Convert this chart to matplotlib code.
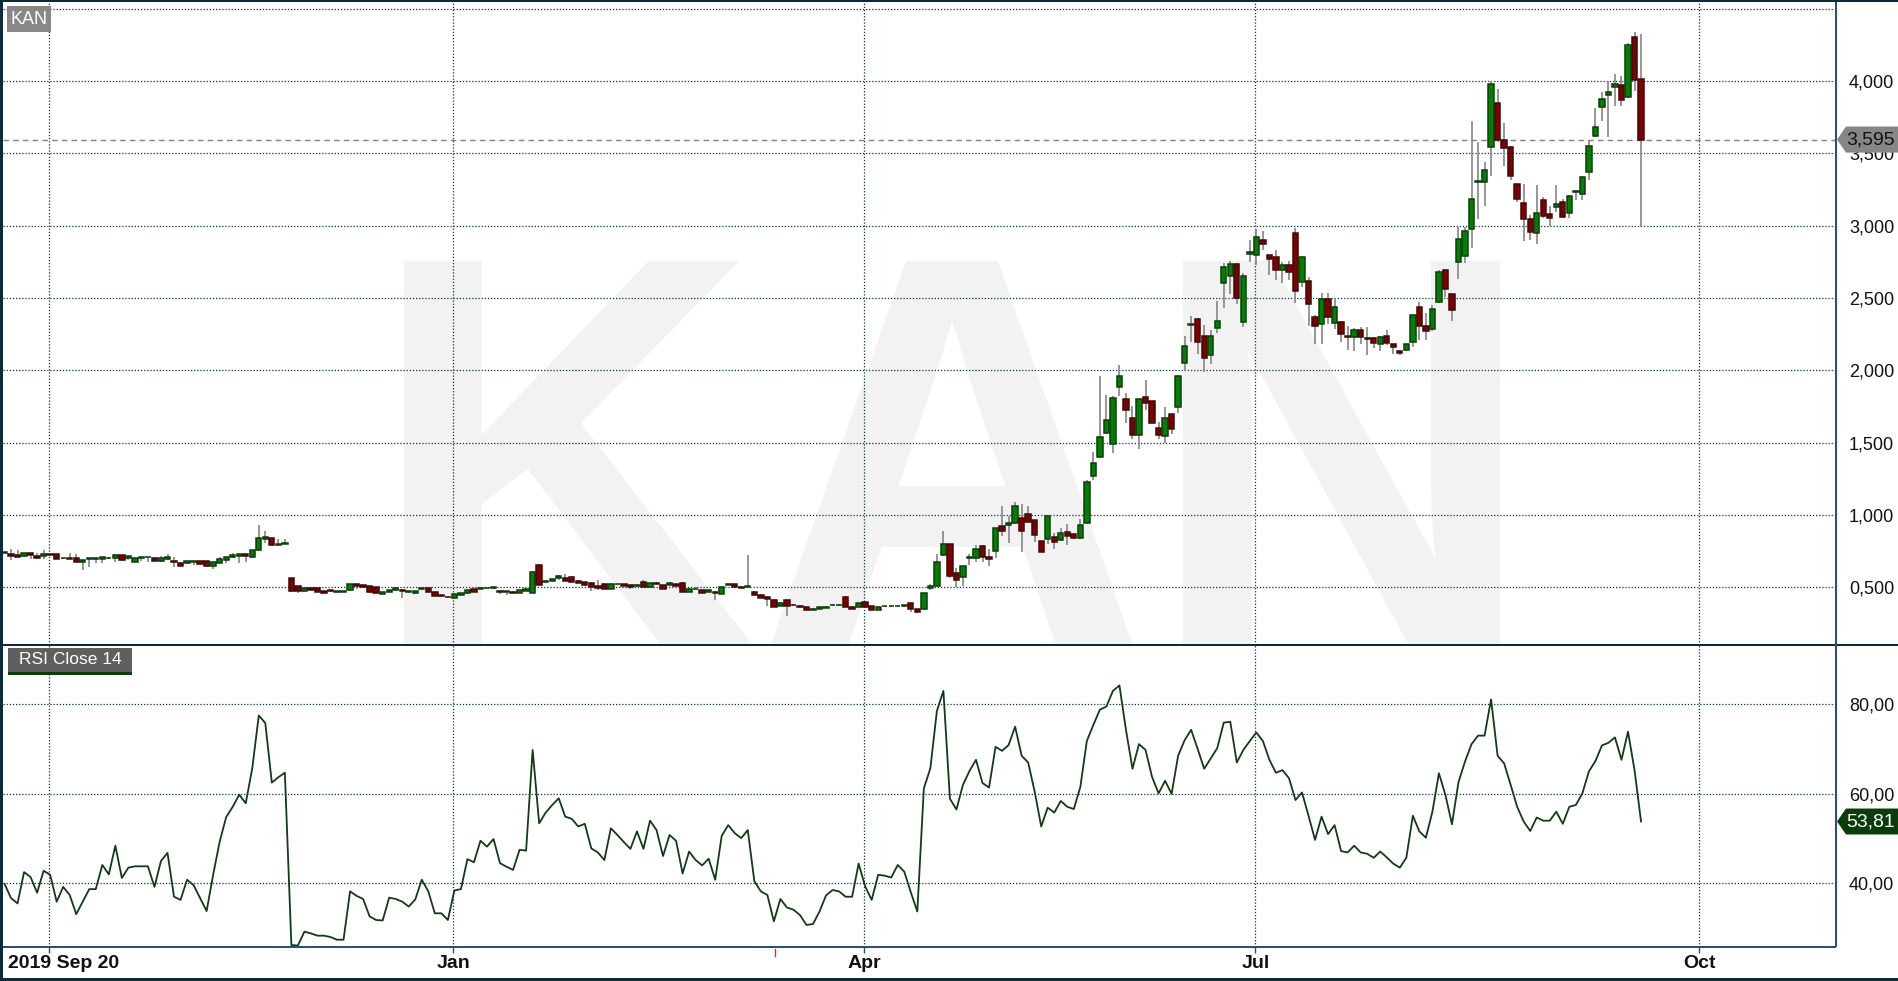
import matplotlib
matplotlib.use('Agg')
import matplotlib.pyplot as plt
import matplotlib.transforms as mtransforms
from matplotlib.patches import Polygon, Rectangle, PathPatch
from matplotlib.textpath import TextPath
from matplotlib.font_manager import FontProperties

plt.rcParams['font.family'] = ['Liberation Sans', 'DejaVu Sans']

# ---- data (price shown with comma decimals) ----
opens = [
    0.737, 0.730, 0.721, 0.714, 0.735, 0.717, 0.719, 0.728, 0.728, 0.700,
    0.705, 0.700, 0.673, 0.696, 0.697, 0.694, 0.701, 0.703, 0.721, 0.700,
    0.677, 0.705, 0.706, 0.700, 0.684, 0.698, 0.682, 0.671, 0.666, 0.677,
    0.680, 0.680, 0.650, 0.671, 0.691, 0.710, 0.717, 0.728, 0.707, 0.756,
    0.836, 0.839, 0.790, 0.797, 0.562, 0.507, 0.472, 0.493, 0.493, 0.475,
    0.482, 0.470, 0.470, 0.479, 0.523, 0.516, 0.509, 0.500, 0.456, 0.470,
    0.479, 0.482, 0.468, 0.459, 0.486, 0.493, 0.468, 0.443, 0.433, 0.429,
    0.449, 0.459, 0.486, 0.488, 0.494, 0.495, 0.472, 0.468, 0.470, 0.463,
    0.477, 0.463, 0.657, 0.537, 0.544, 0.565, 0.567, 0.574, 0.546, 0.535,
    0.532, 0.507, 0.525, 0.491, 0.521, 0.521, 0.514, 0.507, 0.539, 0.502,
    0.532, 0.514, 0.518, 0.521, 0.532, 0.470, 0.486, 0.479, 0.468, 0.470,
    0.456, 0.518, 0.521, 0.505, 0.500, 0.470, 0.449, 0.435, 0.415, 0.373,
    0.415, 0.378, 0.373, 0.366, 0.346, 0.353, 0.357, 0.375, 0.376, 0.435,
    0.366, 0.366, 0.396, 0.369, 0.346, 0.369, 0.370, 0.370, 0.372, 0.389,
    0.348, 0.348, 0.493, 0.512, 0.721, 0.797, 0.597, 0.569, 0.702, 0.700,
    0.788, 0.707, 0.749, 0.922, 0.929, 0.947, 0.977, 1.005, 0.963, 0.818,
    0.832, 0.846, 0.825, 0.880, 0.866, 0.843, 0.947, 1.272, 1.403, 1.569,
    1.493, 1.887, 1.800, 1.668, 1.555, 1.813, 1.786, 1.599, 1.548, 1.696,
    1.749, 2.048, 2.313, 2.356, 2.236, 2.108, 2.291, 2.603, 2.651, 2.734,
    2.333, 2.806, 2.797, 2.901, 2.797, 2.783, 2.693, 2.727, 2.949, 2.610,
    2.617, 2.367, 2.323, 2.494, 2.326, 2.333, 2.236, 2.233, 2.279, 2.223,
    2.224, 2.180, 2.238, 2.182, 2.132, 2.143, 2.196, 2.436, 2.307, 2.286,
    2.473, 2.691, 2.524, 2.746, 2.792, 2.979, 3.300, 3.305, 3.543, 3.848,
    3.591, 3.545, 3.289, 3.157, 3.048, 2.947, 3.176, 3.079, 3.127, 3.164,
    3.085, 3.230, 3.217, 3.369, 3.621, 3.820, 3.905, 3.958, 3.972, 3.887,
    4.305, 4.014]

highs = [
    0.742, 0.765, 0.758, 0.737, 0.736, 0.740, 0.758, 0.732, 0.730, 0.705,
    0.740, 0.730, 0.689, 0.698, 0.699, 0.707, 0.712, 0.730, 0.724, 0.714,
    0.703, 0.710, 0.708, 0.705, 0.717, 0.730, 0.712, 0.673, 0.684, 0.680,
    0.682, 0.682, 0.675, 0.707, 0.710, 0.740, 0.730, 0.730, 0.758, 0.931,
    0.889, 0.843, 0.832, 0.834, 0.565, 0.510, 0.497, 0.497, 0.496, 0.477,
    0.484, 0.477, 0.475, 0.525, 0.526, 0.518, 0.512, 0.502, 0.470, 0.484,
    0.497, 0.486, 0.472, 0.477, 0.497, 0.495, 0.470, 0.447, 0.435, 0.454,
    0.463, 0.482, 0.490, 0.503, 0.498, 0.497, 0.475, 0.470, 0.472, 0.481,
    0.488, 0.612, 0.660, 0.548, 0.557, 0.588, 0.590, 0.578, 0.549, 0.537,
    0.534, 0.548, 0.528, 0.527, 0.525, 0.523, 0.516, 0.521, 0.553, 0.532,
    0.534, 0.516, 0.537, 0.523, 0.535, 0.493, 0.502, 0.481, 0.486, 0.472,
    0.507, 0.527, 0.523, 0.507, 0.721, 0.472, 0.451, 0.437, 0.418, 0.396,
    0.418, 0.382, 0.375, 0.368, 0.355, 0.366, 0.370, 0.382, 0.383, 0.437,
    0.368, 0.389, 0.398, 0.371, 0.369, 0.374, 0.376, 0.378, 0.380, 0.391,
    0.350, 0.462, 0.526, 0.728, 0.887, 0.800, 0.636, 0.650, 0.728, 0.793,
    0.790, 0.763, 0.910, 1.062, 0.993, 1.090, 1.076, 1.062, 0.968, 0.822,
    0.995, 0.873, 0.908, 0.938, 0.870, 0.970, 1.242, 1.435, 1.961, 1.829,
    1.823, 2.037, 1.843, 1.753, 1.805, 1.933, 1.790, 1.641, 1.749, 1.700,
    1.965, 2.240, 2.372, 2.360, 2.314, 2.279, 2.476, 2.745, 2.757, 2.740,
    2.672, 2.903, 2.977, 2.965, 2.800, 2.834, 2.751, 2.757, 2.984, 2.790,
    2.644, 2.383, 2.533, 2.533, 2.499, 2.340, 2.303, 2.290, 2.296, 2.296,
    2.228, 2.240, 2.279, 2.185, 2.136, 2.185, 2.385, 2.473, 2.393, 2.450,
    2.693, 2.700, 2.530, 2.993, 2.993, 3.721, 3.577, 3.439, 3.998, 3.945,
    3.709, 3.550, 3.295, 3.289, 3.074, 3.282, 3.196, 3.136, 3.282, 3.185,
    3.215, 3.245, 3.345, 3.594, 3.813, 3.921, 3.998, 4.051, 4.037, 4.260,
    4.337, 4.328]

lows = [
    0.735, 0.689, 0.707, 0.712, 0.698, 0.696, 0.698, 0.722, 0.694, 0.698,
    0.698, 0.677, 0.620, 0.641, 0.671, 0.671, 0.698, 0.677, 0.684, 0.689,
    0.675, 0.684, 0.677, 0.682, 0.677, 0.689, 0.643, 0.648, 0.664, 0.657,
    0.654, 0.638, 0.627, 0.666, 0.671, 0.700, 0.666, 0.673, 0.703, 0.750,
    0.804, 0.786, 0.786, 0.796, 0.470, 0.459, 0.468, 0.479, 0.468, 0.452,
    0.465, 0.459, 0.465, 0.477, 0.486, 0.502, 0.463, 0.454, 0.452, 0.465,
    0.475, 0.429, 0.463, 0.456, 0.484, 0.465, 0.438, 0.433, 0.425, 0.427,
    0.445, 0.456, 0.466, 0.486, 0.489, 0.490, 0.452, 0.449, 0.460, 0.461,
    0.475, 0.461, 0.516, 0.530, 0.540, 0.553, 0.540, 0.535, 0.528, 0.512,
    0.475, 0.484, 0.488, 0.488, 0.516, 0.510, 0.491, 0.505, 0.503, 0.500,
    0.523, 0.489, 0.516, 0.510, 0.468, 0.466, 0.484, 0.461, 0.466, 0.412,
    0.454, 0.516, 0.500, 0.496, 0.498, 0.443, 0.424, 0.371, 0.362, 0.371,
    0.302, 0.371, 0.360, 0.343, 0.343, 0.350, 0.355, 0.371, 0.372, 0.362,
    0.348, 0.364, 0.364, 0.343, 0.343, 0.366, 0.366, 0.366, 0.366, 0.332,
    0.320, 0.345, 0.480, 0.505, 0.715, 0.562, 0.505, 0.509, 0.654, 0.677,
    0.677, 0.650, 0.705, 0.855, 0.804, 0.940, 0.747, 0.950, 0.816, 0.745,
    0.800, 0.765, 0.820, 0.795, 0.835, 0.834, 0.940, 1.242, 1.395, 1.560,
    1.431, 1.825, 1.634, 1.528, 1.454, 1.726, 1.630, 1.525, 1.495, 1.560,
    1.707, 1.998, 2.199, 2.113, 1.986, 2.044, 2.256, 2.430, 2.529, 2.460,
    2.296, 2.746, 2.725, 2.829, 2.658, 2.626, 2.603, 2.626, 2.464, 2.575,
    2.307, 2.185, 2.185, 2.321, 2.284, 2.199, 2.139, 2.136, 2.180, 2.106,
    2.152, 2.136, 2.176, 2.115, 2.104, 2.132, 2.164, 2.212, 2.208, 2.273,
    2.462, 2.508, 2.342, 2.628, 2.739, 2.843, 3.048, 3.139, 3.346, 3.575,
    3.409, 3.316, 3.166, 2.896, 2.901, 2.871, 3.051, 2.998, 3.095, 3.051,
    3.055, 3.178, 3.178, 3.316, 3.615, 3.721, 3.612, 3.829, 3.829, 3.880,
    3.928, 2.993]

closes = [
    0.740, 0.719, 0.712, 0.735, 0.726, 0.705, 0.730, 0.726, 0.698, 0.703,
    0.698, 0.677, 0.689, 0.698, 0.698, 0.707, 0.703, 0.721, 0.691, 0.714,
    0.700, 0.707, 0.707, 0.684, 0.700, 0.707, 0.673, 0.650, 0.682, 0.678,
    0.664, 0.650, 0.673, 0.694, 0.707, 0.724, 0.728, 0.717, 0.756, 0.839,
    0.845, 0.790, 0.800, 0.806, 0.472, 0.472, 0.495, 0.482, 0.470, 0.459,
    0.472, 0.475, 0.473, 0.521, 0.512, 0.505, 0.465, 0.459, 0.468, 0.482,
    0.493, 0.472, 0.470, 0.475, 0.493, 0.470, 0.438, 0.440, 0.431, 0.452,
    0.461, 0.479, 0.470, 0.495, 0.496, 0.496, 0.466, 0.468, 0.463, 0.479,
    0.486, 0.608, 0.518, 0.546, 0.555, 0.581, 0.544, 0.537, 0.530, 0.516,
    0.502, 0.498, 0.491, 0.525, 0.523, 0.512, 0.502, 0.518, 0.505, 0.530,
    0.525, 0.491, 0.528, 0.512, 0.470, 0.491, 0.490, 0.463, 0.484, 0.459,
    0.505, 0.525, 0.502, 0.498, 0.512, 0.445, 0.426, 0.422, 0.366, 0.394,
    0.373, 0.375, 0.362, 0.346, 0.353, 0.364, 0.366, 0.379, 0.378, 0.364,
    0.350, 0.389, 0.366, 0.346, 0.366, 0.372, 0.372, 0.372, 0.373, 0.348,
    0.327, 0.459, 0.507, 0.673, 0.797, 0.576, 0.548, 0.645, 0.706, 0.767,
    0.707, 0.694, 0.908, 0.892, 0.942, 1.060, 0.892, 0.954, 0.859, 0.747,
    0.991, 0.816, 0.873, 0.853, 0.843, 0.929, 1.226, 1.357, 1.537, 1.654,
    1.806, 1.959, 1.724, 1.555, 1.800, 1.776, 1.638, 1.555, 1.668, 1.597,
    1.961, 2.169, 2.318, 2.199, 2.088, 2.236, 2.342, 2.714, 2.734, 2.499,
    2.649, 2.816, 2.921, 2.873, 2.769, 2.693, 2.727, 2.679, 2.547, 2.783,
    2.457, 2.309, 2.494, 2.365, 2.436, 2.249, 2.231, 2.279, 2.229, 2.216,
    2.192, 2.231, 2.192, 2.159, 2.118, 2.180, 2.381, 2.307, 2.273, 2.427,
    2.677, 2.559, 2.418, 2.905, 2.963, 3.182, 3.307, 3.383, 3.979, 3.594,
    3.536, 3.346, 3.182, 3.048, 2.954, 3.085, 3.065, 3.055, 3.148, 3.058,
    3.208, 3.237, 3.335, 3.552, 3.684, 3.878, 3.924, 3.977, 3.868, 4.252,
    4.005, 3.595]

rsi = [
    39.9, 36.7, 35.5, 42.5, 41.4, 37.9, 42.8, 41.9, 35.9, 39.2,
    37.4, 33.1, 35.9, 38.7, 38.7, 44.1, 42.0, 48.4, 41.2, 43.5,
    43.8, 43.8, 43.8, 39.2, 45.0, 46.8, 37.0, 36.3, 40.8, 39.6,
    36.7, 33.8, 41.9, 49.3, 54.8, 57.1, 59.8, 57.9, 65.7, 77.5,
    75.8, 62.5, 63.7, 64.7, 26.2, 26.1, 29.2, 28.8, 28.3, 28.3,
    28.0, 27.4, 27.4, 38.2, 37.2, 36.5, 32.6, 31.8, 31.7, 36.8,
    36.5, 35.9, 34.8, 36.4, 40.8, 38.2, 33.3, 33.3, 31.8, 38.4,
    38.7, 45.4, 44.7, 49.5, 48.2, 49.9, 44.5, 43.7, 43.0, 47.5,
    47.3, 69.8, 53.4, 55.8, 57.5, 59.0, 54.9, 54.4, 52.7, 53.3,
    47.8, 46.9, 45.2, 52.3, 50.8, 49.2, 47.7, 51.6, 47.7, 54.0,
    51.9, 46.1, 50.8, 49.5, 42.2, 47.1, 45.2, 44.0, 45.5, 40.8,
    50.6, 53.0, 51.2, 50.1, 51.9, 40.5, 38.2, 37.4, 31.5, 36.5,
    34.6, 34.1, 32.9, 30.7, 30.9, 33.7, 37.3, 38.5, 38.2, 37.0,
    37.0, 44.4, 39.3, 36.3, 41.9, 41.7, 41.3, 44.1, 42.6, 38.0,
    33.7, 61.2, 65.7, 78.5, 83.0, 58.9, 56.5, 62.0, 65.1, 67.6,
    62.4, 61.4, 70.5, 69.6, 70.9, 75.0, 68.5, 67.0, 60.5, 52.7,
    56.9, 55.8, 58.4, 57.1, 56.6, 61.5, 71.8, 75.4, 78.8, 79.5,
    83.0, 84.2, 74.3, 65.6, 71.1, 69.8, 63.8, 60.1, 62.9, 60.0,
    68.5, 72.0, 74.3, 70.0, 65.6, 67.9, 70.2, 75.9, 76.1, 67.0,
    69.8, 71.8, 73.7, 71.8, 67.6, 64.7, 65.3, 63.5, 58.6, 60.3,
    55.1, 49.7, 54.9, 51.0, 53.0, 47.2, 46.9, 48.4, 46.9, 46.6,
    45.7, 47.1, 45.8, 44.4, 43.5, 45.7, 55.1, 51.6, 50.2, 56.0,
    64.6, 59.7, 53.2, 62.6, 67.2, 71.1, 73.0, 73.0, 81.1, 68.5,
    66.8, 62.0, 57.1, 53.8, 51.7, 54.7, 54.0, 54.0, 56.0, 53.3,
    57.1, 57.5, 60.1, 65.0, 67.3, 70.8, 71.4, 72.6, 67.6, 73.9,
    65.3, 53.81]

# date gridlines sit at these bar positions
date_pos = [6.87, 68.83, 131.87, 191.84, 259.94]
date_labels = ['2019 Sep 20', 'Jan', 'Apr', 'Jul', 'Oct']
event_pos = [118.2]

price_ticks = [0.5, 1.0, 1.5, 2.0, 2.5, 3.0, 3.5, 4.0, 4.5]
rsi_ticks = [40, 60, 80]
ticker = 'KAN'
indicator = 'RSI Close 14'

# ---- colours ----
NAVY = '#0b2b3c'
AXBLUE = '#2b4f75'
GRID = '#0b3345'
UP, UP_EDGE = '#008000', '#0b3d0b'
DN, DN_EDGE = '#800000', '#3d0a0a'
WICK = '#858585'
RSI_C = '#0f3d12'

W, H = 1899, 981
fig = plt.figure(figsize=(W / 100, H / 100), dpi=100)
fig.patch.set_facecolor('white')


def fx(px):
    return px / W


def fy(py):
    return 1 - py / H


ax_p = fig.add_axes([fx(3), fy(645), fx(1836) - fx(3), fy(2) - fy(645)])
ax_r = fig.add_axes([fx(3), fy(947), fx(1836) - fx(3), fy(645) - fy(947)])

n = len(closes)
xs = list(range(n))
xlim = (-0.23, 280.9)


def comma(v, nd):
    return f'{v:.{nd}f}'.replace('.', ',')


for ax in (ax_p, ax_r):
    ax.set_xlim(*xlim)
    for s in ax.spines.values():
        s.set_visible(False)
    for d in date_pos:
        ax.axvline(d, color=GRID, lw=0.9, ls=(0, (1, 1.5)), zorder=1)
    ax.yaxis.tick_right()
    ax.tick_params(axis='y', length=0, pad=9.4, labelsize=13, labelcolor='#111111')

# ---- price panel ----
ax_p.set_ylim(0.101, 4.546)
for t in price_ticks:
    ax_p.axhline(t, color=GRID, lw=0.9, ls=(0, (1, 1.5)), zorder=1)
ax_p.set_yticks(price_ticks, [comma(t, 3) if t < 4.5 else '' for t in price_ticks])
ax_p.set_xticks([])

# watermark: ticker outline stretched over the panel, sitting on its bottom edge
tp = TextPath((0, 0), ticker, size=100,
              prop=FontProperties(family='Liberation Sans', weight='bold'))
ext = tp.get_extents()
wm_left, wm_right, wm_top, wm_base = 404, 1500, 260.7, 645
kx = (wm_right - wm_left) / ext.width
ky = (wm_base - wm_top) / ext.y1
wm_tr = (mtransforms.Affine2D().translate(-ext.x0, 0).scale(kx / W, ky / H)
         .translate(wm_left / W, 1 - wm_base / H) + fig.transFigure)
ax_p.add_patch(PathPatch(tp, transform=wm_tr, facecolor='#f2f2f2',
                         edgecolor='none', zorder=0.5))

up = [c >= o for o, c in zip(opens, closes)]
ax_p.vlines(xs, lows, highs, color=WICK, lw=1.2, zorder=2)
bottoms = [min(o, c) for o, c in zip(opens, closes)]
heights = [max(abs(c - o), 0.004) for o, c in zip(opens, closes)]
ax_p.bar(xs, heights, bottom=bottoms, width=0.82,
         color=[UP if u else DN for u in up],
         edgecolor=[UP_EDGE if u else DN_EDGE for u in up],
         linewidth=1.1, zorder=3)

# last price line and tag
last = closes[-1]
bl_p = mtransforms.blended_transform_factory(fig.transFigure, ax_p.transData)
ax_p.axhline(last, color='#808080', lw=1.0, ls=(0, (4, 3)), zorder=2)
fig.add_artist(Polygon([(fx(1837), last), (fx(1846), last + 0.09), (1.0, last + 0.09),
                        (1.0, last - 0.09), (fx(1846), last - 0.09)],
                       closed=True, transform=bl_p, facecolor='#868686', edgecolor='none'))
fig.text(fx(1846), last, comma(last, 3), transform=bl_p, ha='left', va='center',
         fontsize=14, color='#111111')

# ---- RSI panel ----
ax_r.set_ylim(25.77, 93.25)
for t in rsi_ticks:
    ax_r.axhline(t, color=GRID, lw=0.9, ls=(0, (1, 1.5)), zorder=1)
ax_r.set_yticks(rsi_ticks, [comma(t, 2) for t in rsi_ticks])
ax_r.plot(xs, rsi, color=RSI_C, lw=1.3, zorder=3)

ax_r.set_xticks(date_pos, [''] * len(date_pos))
ax_r.tick_params(axis='x', direction='out', length=4.5, width=1.0, color=AXBLUE)
bl_x = mtransforms.blended_transform_factory(ax_r.transData, ax_r.transAxes)
for d in event_pos:
    ax_r.plot([d, d], [-0.005, -0.03], color='#e03020', lw=1.0, transform=bl_x,
              clip_on=False)
ylab = (947 - 964) / 302
ax_r.text(0.0027, ylab, date_labels[0], transform=ax_r.transAxes, ha='left',
          va='center', fontsize=14, fontweight='bold', color='#111111')
for d, lab in zip(date_pos[1:], date_labels[1:]):
    ax_r.text(d, ylab, lab, transform=bl_x, ha='center', va='center',
              fontsize=14, fontweight='bold', color='#111111')

last_rsi = rsi[-1]
bl_r = mtransforms.blended_transform_factory(fig.transFigure, ax_r.transData)
fig.add_artist(Polygon([(fx(1837), last_rsi), (fx(1846), last_rsi + 2.9), (1.0, last_rsi + 2.9),
                        (1.0, last_rsi - 2.9), (fx(1846), last_rsi - 2.9)],
                       closed=True, transform=bl_r, facecolor='#0b3d0b', edgecolor='none'))
fig.text(fx(1846), last_rsi, comma(last_rsi, 2), transform=bl_r, ha='left', va='center',
         fontsize=14, color='white')

# ---- panel labels ----
fig.add_artist(Rectangle((fx(7), fy(32)), fx(44), 26 / H, facecolor='#888888',
                         edgecolor='none'))
fig.text(fx(29), fy(19.5), ticker, ha='center', va='center', fontsize=13, color='white')
fig.add_artist(Rectangle((fx(8), fy(672)), fx(124), 24 / H, facecolor='#5f5f5f',
                         edgecolor='none'))
fig.add_artist(Rectangle((fx(8), fy(674.5)), fx(124), 2.5 / H, facecolor='#0b3d0b',
                         edgecolor='none'))
fig.text(fx(70), fy(660), indicator, ha='center', va='center', fontsize=12.5,
         color='white')

# ---- frame ----
fig.add_artist(Rectangle((0, fy(2)), 1, 2 / H, facecolor=NAVY, edgecolor='none'))
fig.add_artist(Rectangle((0, 0), fx(3), 1, facecolor=NAVY, edgecolor='none'))
fig.add_artist(Rectangle((0, 0), 1, 3 / H, facecolor=NAVY, edgecolor='none'))
fig.add_artist(Rectangle((0, fy(646)), 1, 2 / H, facecolor=NAVY, edgecolor='none'))
fig.add_artist(Rectangle((fx(1835.5), fy(947)), 1.5 / W, (945) / H, facecolor=AXBLUE,
                         edgecolor='none'))
fig.add_artist(Rectangle((fx(3), fy(947.5)), fx(1833), 1.5 / H, facecolor=AXBLUE,
                         edgecolor='none'))

fig.savefig('out.png', dpi=100)
